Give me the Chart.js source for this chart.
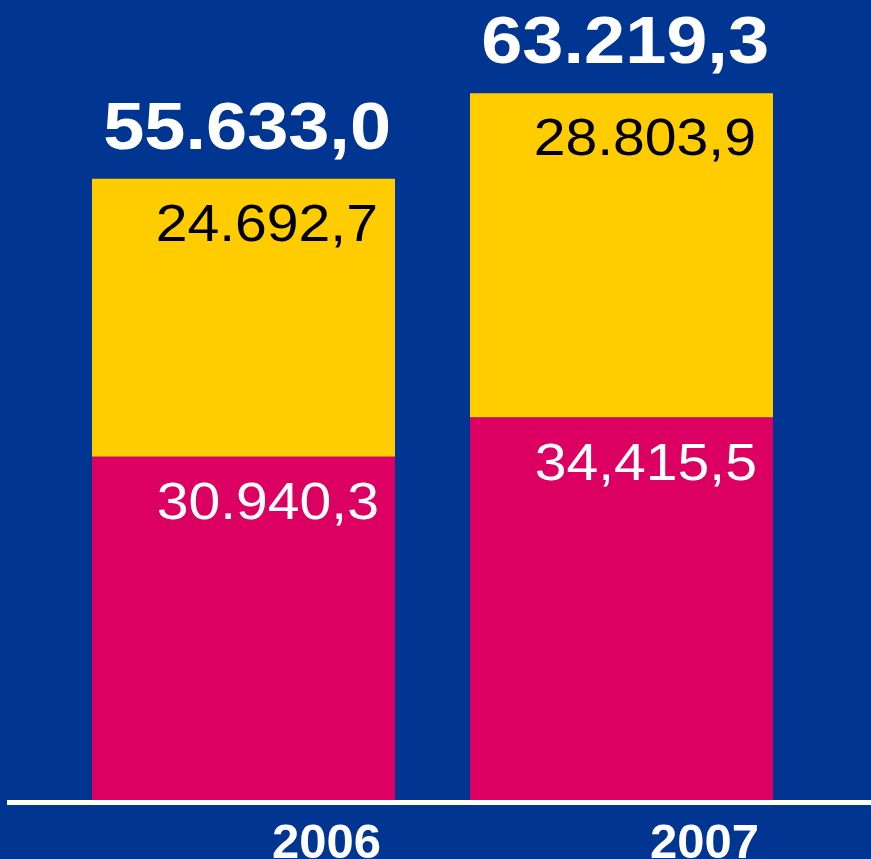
<!DOCTYPE html>
<html>
<head>
<meta charset="utf-8">
<script src="https://cdn.jsdelivr.net/npm/chart.js@4/dist/chart.umd.min.js"></script>
<style>
	html, body { margin: 0; padding: 0; background: #003591; }
	#wrap { width: 871px; height: 859px; }
</style>
</head>
<body>
<div id="wrap"><canvas id="myChartStack" width="871" height="859"></canvas></div>
<script>
// values
var years = ["2006", "2007"];
var lowerValues = [30940.3, 34415.5];
var upperValues = [24692.7, 28803.9];
var totalValues = [55633.0, 63219.3];
// label texts as printed in the picture
var lowerTexts = ["30.940,3", "34,415,5"];
var upperTexts = ["24.692,7", "28.803,9"];
var totalTexts = ["55.633,0", "63.219,3"];

var blue = "#003591";
var magenta = "#db0062";
var yellow = "#ffcc00";
var fontName = "'Liberation Sans', Arial, sans-serif";

// draw text a bit wider than the font, like in the original
function stretchText(ctx, text, x, y, font, color) {
	ctx.save();
	ctx.font = font;
	ctx.fillStyle = color;
	ctx.textAlign = "right";
	ctx.textBaseline = "alphabetic";
	ctx.translate(x, y);
	ctx.scale(1.12, 1);
	ctx.fillText(text, 0, 0);
	ctx.restore();
}

var backgroundPlugin = {
	id: "background",
	beforeDraw: function (chart) {
		var ctx = chart.ctx;
		ctx.save();
		ctx.fillStyle = blue;
		ctx.fillRect(0, 0, chart.width, chart.height);
		ctx.restore();
	},
};

var labelPlugin = {
	id: "valueLabels",
	afterDatasetsDraw: function (chart) {
		var ctx = chart.ctx;
		var lowerBars = chart.getDatasetMeta(0).data;
		var upperBars = chart.getDatasetMeta(1).data;

		// baseline line under the bars
		var bottom = chart.chartArea.bottom;
		ctx.save();
		ctx.fillStyle = "#ffffff";
		ctx.fillRect(7, bottom - 5, chart.width - 7, 5);
		ctx.restore();

		for (var i = 0; i < years.length; i++) {
			var lb = lowerBars[i];
			var ub = upperBars[i];
			var lRight = lb.x + lb.width / 2;
			var uRight = ub.x + ub.width / 2;

			stretchText(ctx, lowerTexts[i], lRight - 16, lb.y + 62, "51px " + fontName, "#ffffff");
			stretchText(ctx, upperTexts[i], uRight - 17, ub.y + 62, "51px " + fontName, "#000000");
			stretchText(ctx, totalTexts[i], uRight - 4, ub.y - 30, "bold 66px " + fontName, "#ffffff");
		}
	},
};

var ctx = document.getElementById("myChartStack").getContext("2d");
var myChart = new Chart(ctx, {
	type: "bar",
	data: {
		labels: years,
		datasets: [
			{
				data: lowerValues,
				backgroundColor: magenta,
				borderWidth: 0,
			},
			{
				data: upperValues,
				backgroundColor: yellow,
				borderWidth: 0,
			},
		],
	},
	options: {
		responsive: false,
		animation: false,
		events: [],
		layout: {
			padding: { left: 54.5, right: 60.5, top: 0, bottom: 0 },
		},
		datasets: {
			bar: {
				barPercentage: 0.8016,
				categoryPercentage: 1,
			},
		},
		scales: {
			x: {
				stacked: true,
				grid: { display: false, drawTicks: false, tickLength: 0 },
				border: { display: false },
				afterFit: function (scale) {
					scale.height = 54;
				},
				ticks: {
					color: "#ffffff",
					padding: 15,
					labelOffset: 83,
					maxRotation: 0,
					font: { family: fontName, size: 49, weight: "bold", lineHeight: 1 },
				},
			},
			y: {
				stacked: true,
				display: false,
				min: 0,
				max: 71500,
			},
		},
		plugins: {
			legend: { display: false },
			tooltip: { enabled: false },
		},
	},
	plugins: [backgroundPlugin, labelPlugin],
});
</script>
</body>
</html>
